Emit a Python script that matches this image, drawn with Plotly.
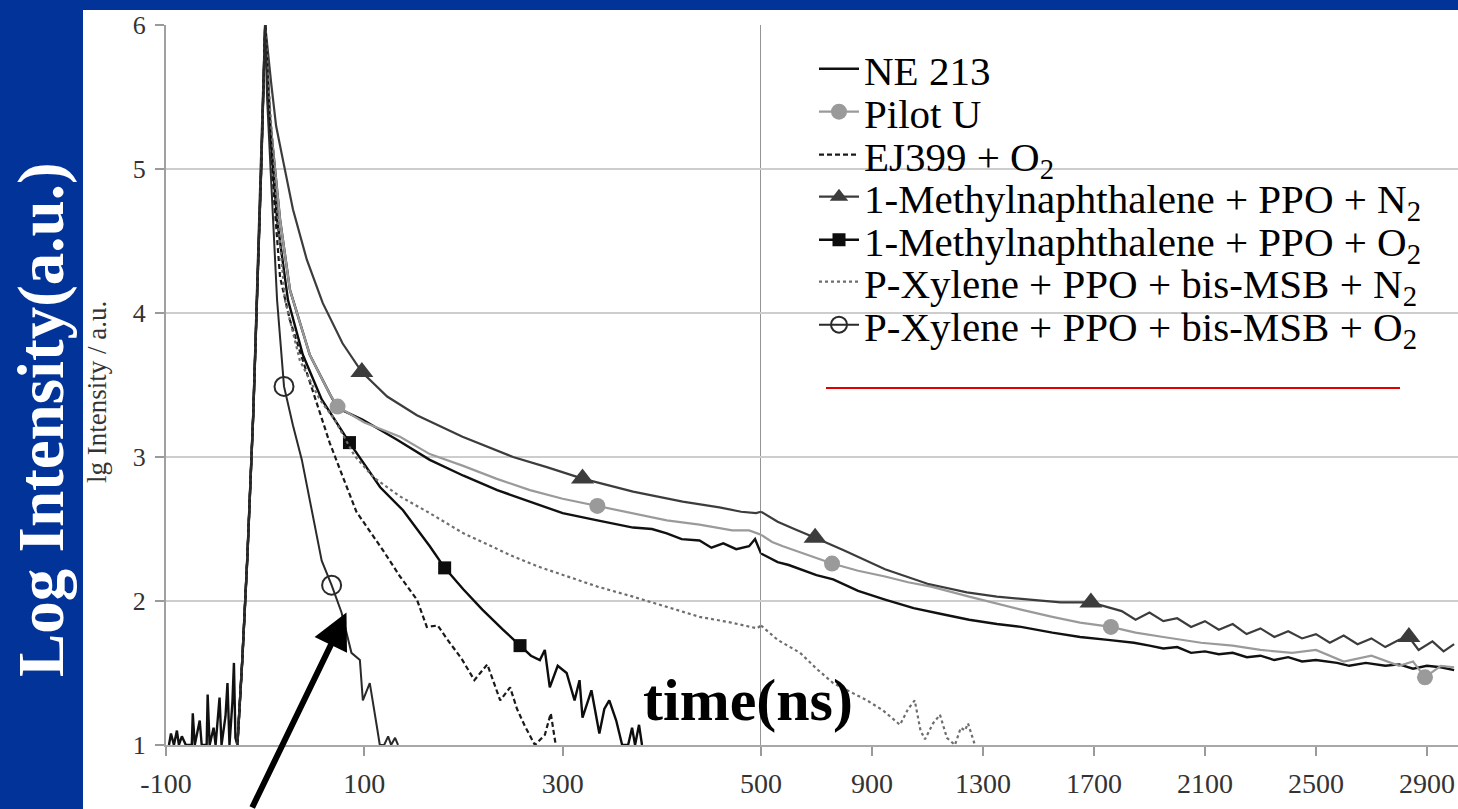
import plotly.graph_objects as go

# ---------------- data (x: time in ns, y: lg intensity) ----------------
rise_x = [-28, -23, -18, -12, -4, 0]
rise_y = [1.0, 1.6, 2.3, 3.3, 5.0, 6.0]

pre_noise_x = [-97, -95, -92, -89, -87, -84, -80, -74, -73, -71, -66, -64, -59, -58, -56,
               -52, -50, -46, -44, -40, -38, -36, -33, -31.5, -30]
pre_noise_y = [1.0, 1.08, 1.0, 1.1, 1.0, 1.06, 1.0, 1.0, 1.22, 1.0, 1.17, 1.0, 1.0, 1.35, 1.0,
               1.12, 1.0, 1.33, 1.0, 1.2, 1.43, 1.0, 1.3, 1.57, 1.05]

ne213_x = [5, 15, 25, 45, 65, 73, 98, 133, 166, 200, 234, 267, 300, 335, 371, 390, 405, 420, 438, 450,
           462, 475, 488, 494, 500, 530, 560, 600, 640, 700, 760, 850, 947, 1050, 1150, 1250, 1350, 1437,
           1550, 1650, 1750, 1844, 1900, 1950, 2000, 2050, 2100, 2150, 2200, 2251, 2300, 2350, 2400, 2450,
           2500, 2576, 2620, 2680, 2750, 2800, 2850, 2900, 2950, 2998]
ne213_y = [5.34, 4.65, 4.16, 3.71, 3.44, 3.34, 3.26, 3.12, 2.98, 2.87, 2.77, 2.69, 2.61, 2.56, 2.51, 2.50,
           2.47, 2.43, 2.42, 2.37, 2.40, 2.36, 2.38, 2.43, 2.33, 2.30, 2.27, 2.25, 2.22, 2.18, 2.15, 2.07,
           2.01, 1.95, 1.91, 1.87, 1.84, 1.82, 1.78, 1.75, 1.73, 1.71, 1.69, 1.67, 1.68, 1.64, 1.65, 1.63,
           1.64, 1.61, 1.62, 1.59, 1.61, 1.58, 1.59, 1.57, 1.55, 1.57, 1.55, 1.56, 1.53, 1.55, 1.54, 1.52]

pilot_x = [5, 15, 25, 45, 65, 73, 100, 136, 166, 199, 233, 267, 300, 335, 370, 405, 438, 471, 488, 500,
           540, 579, 640, 700, 756, 850, 947, 1030, 1113, 1250, 1350, 1437, 1550, 1650, 1761, 1850, 1950,
           2086, 2200, 2300, 2414, 2500, 2600, 2700, 2800, 2850, 2893, 2950, 2998]
pilot_y = [5.34, 4.65, 4.16, 3.71, 3.44, 3.35, 3.24, 3.14, 3.02, 2.94, 2.85, 2.77, 2.71, 2.66, 2.61, 2.56,
           2.53, 2.49, 2.49, 2.46, 2.41, 2.38, 2.34, 2.30, 2.26, 2.21, 2.17, 2.13, 2.10, 2.03, 1.98, 1.94,
           1.89, 1.85, 1.82, 1.78, 1.75, 1.71, 1.69, 1.66, 1.64, 1.66, 1.58, 1.62, 1.55, 1.58, 1.47, 1.55, 1.54]
pilot_mx = [73, 335, 756, 1761, 2893]
pilot_my = [3.35, 2.66, 2.26, 1.82, 1.47]

ej399_x = [3, 9, 15, 25, 38, 52, 65, 79, 92, 106, 119, 136, 153, 163, 174, 184, 198, 211, 224, 237,
           247, 254, 262, 272, 282, 288, 293]
ej399_y = [5.48, 4.79, 4.25, 3.95, 3.67, 3.38, 3.10, 2.85, 2.62, 2.48, 2.35, 2.17, 2.01, 1.82, 1.83, 1.73,
           1.60, 1.45, 1.56, 1.31, 1.40, 1.25, 1.13, 1.0, 1.07, 1.22, 1.0]

mn_n2_x = [6, 11, 18, 28, 42, 58, 78, 97.5, 123, 153, 199, 250, 284, 320, 371, 421, 458, 480, 495, 500,
           560, 620, 695, 800, 947, 1100, 1242, 1350, 1470, 1580, 1689, 1760, 1800, 1850, 1900, 1950, 2000,
           2050, 2100, 2150, 2200, 2250, 2300, 2350, 2400, 2450, 2500, 2550, 2600, 2650, 2700, 2750, 2800,
           2835, 2870, 2920, 2960, 2998]
mn_n2_y = [5.6, 5.3, 5.06, 4.72, 4.37, 4.07, 3.79, 3.59, 3.42, 3.29, 3.14, 3.00, 2.93, 2.85, 2.76, 2.69,
           2.65, 2.62, 2.61, 2.62, 2.55, 2.50, 2.44, 2.35, 2.22, 2.12, 2.06, 2.03, 2.01, 1.99, 1.99, 1.95,
           1.93, 1.87, 1.92, 1.86, 1.88, 1.82, 1.86, 1.80, 1.84, 1.77, 1.81, 1.75, 1.79, 1.74, 1.77, 1.71,
           1.76, 1.70, 1.74, 1.68, 1.73, 1.75, 1.66, 1.72, 1.65, 1.70]
mn_n2_mx = [97.5, 320, 695, 1689, 2835]
mn_n2_my = [3.59, 2.85, 2.44, 1.99, 1.75]

mn_o2_x = [5, 12, 23, 38, 57, 85, 116, 139, 166, 181, 200, 219, 240, 257, 268, 277, 282, 287, 295, 304,
           312, 317, 320, 329, 337, 342, 347, 354, 360, 366, 370, 373, 377, 380]
mn_o2_y = [5.27, 4.65, 4.09, 3.71, 3.40, 3.10, 2.79, 2.63, 2.38, 2.23, 2.08, 1.94, 1.80, 1.69, 1.62, 1.59,
           1.66, 1.40, 1.55, 1.50, 1.31, 1.45, 1.19, 1.38, 1.08, 1.25, 1.31, 1.17, 1.0, 1.0, 1.12, 1.0,
           1.14, 1.0]
mn_o2_mx = [85, 181, 257]
mn_o2_my = [3.10, 2.23, 1.69]

px_n2_x = [5, 12, 20, 35, 55, 70, 90, 109, 135, 166, 200, 250, 275, 304, 335, 371, 400, 438, 470, 496,
           500, 560, 641, 700, 760, 820, 882, 940, 1001, 1030, 1054, 1075, 1091, 1120, 1145, 1170, 1199,
           1220, 1235, 1246, 1271]
px_n2_y = [5.41, 4.72, 4.09, 3.67, 3.40, 3.26, 3.01, 2.86, 2.73, 2.61, 2.47, 2.31, 2.24, 2.17, 2.10, 2.03,
           1.97, 1.89, 1.85, 1.81, 1.83, 1.73, 1.64, 1.53, 1.43, 1.37, 1.31, 1.24, 1.14, 1.25, 1.31, 1.10,
           1.04, 1.15, 1.21, 1.05, 1.0, 1.12, 1.10, 1.15, 1.0]

px_o2_x = [2, 7, 12, 19, 28, 37, 47, 57, 67, 77, 87, 95.5, 98.5, 105.5, 112.6, 115.6, 120, 124, 127, 131, 134]
px_o2_y = [5.48, 4.79, 4.09, 3.49, 3.22, 2.98, 2.62, 2.28, 2.11, 1.92, 1.64, 1.59, 1.31, 1.43, 1.13, 1.0,
           1.0, 1.06, 1.0, 1.05, 1.0]
px_o2_mx = [19, 67]
px_o2_my = [3.49, 2.11]

x_left_ticks = [-100, 100, 300, 500]
x_left_labels = ["-100", "100", "300", "500"]
x_right_ticks = [900, 1300, 1700, 2100, 2500, 2900]
x_right_labels = ["900", "1300", "1700", "2100", "2500", "2900"]
y_ticks = [1, 2, 3, 4, 5, 6]
BREAK = 500

# ---------------- helpers ----------------
def split(xs, ys):
    left = [(a, b) for a, b in zip(xs, ys) if a <= BREAK]
    right = [(a, b) for a, b in zip(xs, ys) if a >= BREAK]
    lx = [p[0] for p in left]; ly = [p[1] for p in left]
    rx = [p[0] for p in right]; ry = [p[1] for p in right]
    return lx, ly, rx, ry

SERIF = "Liberation Serif, Times New Roman, serif"

series = [
    dict(name="NE 213", x=pre_noise_x + rise_x + ne213_x, y=pre_noise_y + rise_y + ne213_y,
         mx=[], my=[], color="#111111", width=2.4, dash="solid", symbol=None),
    dict(name="Pilot U", x=rise_x + pilot_x, y=rise_y + pilot_y, mx=pilot_mx, my=pilot_my,
         color="#9a9a9a", width=2.2, dash="solid",
         symbol=dict(symbol="circle", size=16, color="#9a9a9a")),
    dict(name="EJ399 + O<sub>2</sub>", x=rise_x + ej399_x, y=rise_y + ej399_y, mx=[], my=[],
         color="#1a1a1a", width=2.2, dash="5px,3px", symbol=None),
    dict(name="1-Methylnaphthalene + PPO + N<sub>2</sub>", x=rise_x + mn_n2_x, y=rise_y + mn_n2_y,
         mx=mn_n2_mx, my=mn_n2_my, color="#3c3c3c", width=2.2, dash="solid",
         symbol=dict(symbol="triangle-up", size=20, color="#3c3c3c")),
    dict(name="1-Methylnaphthalene + PPO + O<sub>2</sub>", x=rise_x + mn_o2_x, y=rise_y + mn_o2_y,
         mx=mn_o2_mx, my=mn_o2_my, color="#0d0d0d", width=2.4, dash="solid",
         symbol=dict(symbol="square", size=13, color="#0d0d0d")),
    dict(name="P-Xylene + PPO + bis-MSB + N<sub>2</sub>", x=rise_x + px_n2_x, y=rise_y + px_n2_y,
         mx=[], my=[], color="#6e6e6e", width=2.2, dash="dot", symbol=None),
    dict(name="P-Xylene + PPO + bis-MSB + O<sub>2</sub>", x=rise_x + px_o2_x, y=rise_y + px_o2_y,
         mx=px_o2_mx, my=px_o2_my, color="#2a2a2a", width=2.0, dash="solid",
         symbol=dict(symbol="circle-open", size=19, color="#2a2a2a", line=dict(width=2, color="#2a2a2a"))),
]

legend_names = ["legend"] + [f"legend{i}" for i in range(2, 8)]
legend_rows_y = [0.91464, 0.86150, 0.80837, 0.75648, 0.70327, 0.65137, 0.59824]

fig = go.Figure()
for i, s in enumerate(series):
    line = dict(color=s["color"], width=s["width"], dash=s["dash"])
    lx, ly, rx, ry = split(s["x"], s["y"])
    fig.add_trace(go.Scatter(x=lx, y=ly, mode="lines", line=line, xaxis="x", yaxis="y",
                             showlegend=False, hoverinfo="skip"))
    if rx:
        fig.add_trace(go.Scatter(x=rx, y=ry, mode="lines", line=line, xaxis="x2", yaxis="y",
                                 showlegend=False, hoverinfo="skip"))
    if s["symbol"]:
        mlx, mly, mrx, mry = split(s["mx"], s["my"])
        if mlx:
            fig.add_trace(go.Scatter(x=mlx, y=mly, mode="markers", marker=s["symbol"], xaxis="x",
                                     yaxis="y", showlegend=False, hoverinfo="skip"))
        if mrx:
            fig.add_trace(go.Scatter(x=mrx, y=mry, mode="markers", marker=s["symbol"], xaxis="x2",
                                     yaxis="y", showlegend=False, hoverinfo="skip"))
    # legend entry
    fig.add_trace(go.Scatter(x=[None], y=[None], mode="lines+markers" if s["symbol"] else "lines",
                             line=line, marker=s["symbol"] if s["symbol"] else None,
                             name=s["name"], legend=legend_names[i], showlegend=True,
                             xaxis="x", yaxis="y"))

D = (761 - 166) / 1292
tick_font = dict(family=SERIF, size=28, color="#333333")
axis_common = dict(ticks="outside", ticklen=9, tickcolor="#9a9a9a", tickwidth=1.5,
                   showline=True, linecolor="#a8a8a8", linewidth=2, showgrid=False,
                   zeroline=False, tickfont=tick_font, ticklabelstandoff=3, anchor="y")

layout = dict(
    width=1458, height=809,
    font=dict(family=SERIF, color="black"),
    margin=dict(l=166, r=0, t=25, b=64, autoexpand=False),
    paper_bgcolor="#013399", plot_bgcolor="white",
    xaxis=dict(domain=[0, D], range=[-100, BREAK], tickmode="array", tickvals=x_left_ticks,
               ticktext=x_left_labels, **axis_common),
    xaxis2=dict(domain=[D, 1], range=[BREAK, 3012], tickmode="array", tickvals=x_right_ticks,
                ticktext=x_right_labels, **axis_common),
    yaxis=dict(range=[1, 6], tickmode="array", tickvals=y_ticks, anchor="x",
               gridcolor="#cdcdcd", gridwidth=2, showline=True, linecolor="#a0a0a0", linewidth=2,
               ticks="outside", ticklen=9, tickcolor="#9a9a9a", tickwidth=1.5, zeroline=False,
               tickfont=dict(family=SERIF, size=26, color="#333333"), ticklabelstandoff=4),
    shapes=[
        dict(type="rect", xref="paper", yref="paper", x0=(83 - 166) / 1292, x1=1.02,
             y0=-0.12, y1=(745 - 10) / 720, fillcolor="white", line=dict(width=0), layer="below"),
        dict(type="line", xref="x", yref="y", x0=BREAK, x1=BREAK, y0=1, y1=6,
             line=dict(color="#7a7a7a", width=1.6), layer="below"),
        dict(type="line", xref="paper", yref="paper", x0=(826 - 166) / 1292, x1=(1400 - 166) / 1292,
             y0=(745 - 388) / 720, y1=(745 - 388) / 720, line=dict(color="#e00000", width=2)),
    ],
    annotations=[
        dict(text="<b>time(ns)</b>", xref="paper", yref="paper", x=(748 - 166) / 1292,
             y=(745 - 700) / 720, xanchor="center", yanchor="middle", showarrow=False,
             font=dict(family=SERIF, size=60, color="black")),
        dict(text="<b>Log Intensity(a.u.)</b>", xref="paper", yref="paper", x=(41 - 166) / 1292,
             y=(745 - 420) / 720, xanchor="center", yanchor="middle", showarrow=False, textangle=-90,
             font=dict(family=SERIF, size=65, color="white")),
        dict(text="lg Intensity / a.u.", xref="paper", yref="paper", x=(97 - 166) / 1292,
             y=(745 - 392) / 720, xanchor="center", yanchor="middle", showarrow=False, textangle=-90,
             font=dict(family=SERIF, size=27, color="#333333")),
        dict(text="", xref="x", yref="y", x=82, y=1.92, showarrow=True, ax=-95, ay=200,
             arrowhead=2, arrowsize=1.2, arrowwidth=6, arrowcolor="black", standoff=0),
    ],
)
for name, yy in zip(legend_names, legend_rows_y):
    layout[name] = dict(x=814 / 1458, y=yy, xref="container", yref="container",
                        xanchor="left", yanchor="middle",
                        bgcolor="rgba(0,0,0,0)", borderwidth=0, itemwidth=40,
                        font=dict(family=SERIF, size=41, color="black"))

fig.update_layout(**layout)
fig.write_html("out.html", config={"displayModeBar": False},
               post_script="document.body.style.margin='0';")
